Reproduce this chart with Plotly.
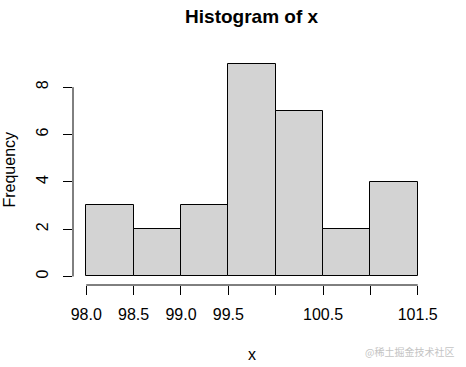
import plotly.graph_objects as go

breaks = [98.0, 98.5, 99.0, 99.5, 100.0, 100.5, 101.0, 101.5]
counts = [3, 2, 3, 9, 7, 2, 4]
x_tick_vals = [98.0, 98.5, 99.0, 99.5, 100.0, 100.5, 101.0, 101.5]
x_tick_text = ["98.0", "98.5", "99.0", "99.5", "", "100.5", "", "101.5"]
y_tick_vals = [0, 2, 4, 6, 8]

mids = [(a + b) / 2 for a, b in zip(breaks[:-1], breaks[1:])]
widths = [b - a for a, b in zip(breaks[:-1], breaks[1:])]

FONT = "Liberation Sans, Arial, sans-serif"

fig = go.Figure()
fig.add_trace(go.Bar(
    x=mids, y=counts, width=widths,
    marker=dict(color="#D3D3D3", line=dict(color="black", width=1)),
    hoverinfo="x+y",
))

xr = breaks[-1] - breaks[0]
yr = max(counts)
fig.update_layout(
    width=466, height=367,
    margin=dict(l=73, r=35, t=55, b=82, autoexpand=False),
    paper_bgcolor="white", plot_bgcolor="white",
    showlegend=False, bargap=0,
    font=dict(family=FONT, color="black", size=16),
    title=dict(text="<b>Histogram of x</b>", x=0.54, xanchor="center",
               y=0.955, yanchor="middle", font=dict(size=19, family=FONT)),
    xaxis=dict(range=[breaks[0] - 0.04 * xr, breaks[-1] + 0.04 * xr],
               showgrid=False, zeroline=False, showline=False,
               tickmode="array", tickvals=x_tick_vals, ticktext=x_tick_text,
               ticks="outside", ticklen=9, tickwidth=1, tickcolor="black",
               ticklabelstandoff=6,
               tickfont=dict(size=16), fixedrange=True, automargin=False),
    yaxis=dict(range=[-0.04 * yr, yr * 1.04],
               showgrid=False, zeroline=False, showline=False,
               tickmode="array", tickvals=y_tick_vals,
               ticks="outside", ticklen=9, tickwidth=1, tickcolor="black",
               ticklabelstandoff=9,
               tickangle=-90, tickfont=dict(size=16), fixedrange=True, automargin=False),
    annotations=[
        dict(text="x", xref="paper", yref="paper", x=0.5, y=-0.303,
             yanchor="middle", showarrow=False, font=dict(size=16)),
        dict(text="Frequency", xref="paper", yref="paper", x=-0.18, y=0.5,
             xanchor="center", textangle=-90, showarrow=False, font=dict(size=16)),
        dict(text="@稀土掘金技术社区", xref="paper", yref="paper",
             x=1.07, y=-0.287, xanchor="right", yanchor="middle", showarrow=False,
             font=dict(size=10, color="#c4c4c4", family="Noto Sans CJK SC")),
    ],
    shapes=[
        dict(type="line", xref="x", yref="paper", x0=breaks[0], x1=breaks[-1],
             y0=0, y1=0, line=dict(color="black", width=1)),
        dict(type="line", xref="paper", yref="y", x0=0, x1=0,
             y0=y_tick_vals[0], y1=y_tick_vals[-1], line=dict(color="black", width=1)),
    ],
)

fig.write_html("out.html", config={"displayModeBar": False})
with open("out.html", encoding="utf-8") as f:
    html = f.read()
html = html.replace("<body>", '<body style="margin:0;padding:0;">', 1)
with open("out.html", "w", encoding="utf-8") as f:
    f.write(html)
